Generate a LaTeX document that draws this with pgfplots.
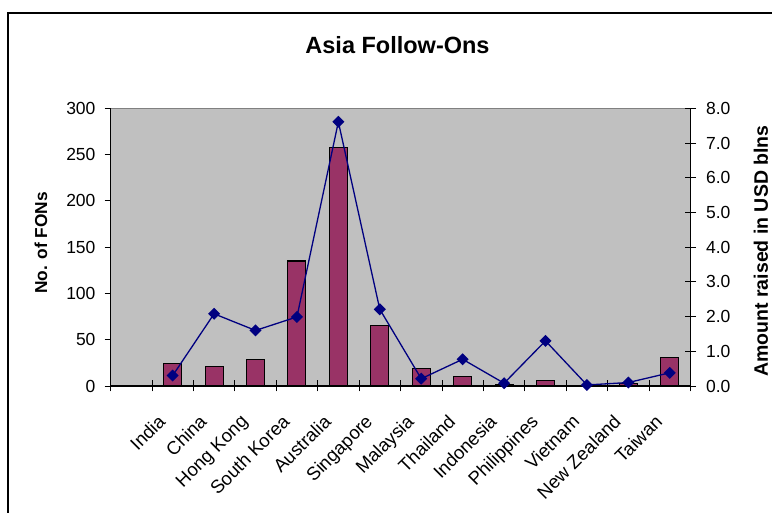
\documentclass[border=0pt]{standalone}
\usepackage{fontspec}
\setmainfont{Liberation Sans}
\usepackage{pgfplots}
\pgfplotsset{compat=1.18}
\definecolor{plotgray}{HTML}{C0C0C0}
\definecolor{barfill}{HTML}{993366}
\definecolor{linecol}{HTML}{000080}
\newcommand{\tickfont}{\fontsize{17.5}{20}\selectfont}
\newcommand{\catfont}{\fontsize{18.5}{21}\selectfont}
\begin{document}
\begin{tikzpicture}[x=1pt,y=1pt]
\path[use as bounding box] (0,0) rectangle (772,512);
\draw[line width=1.5pt] (8,-2) -- (8,499) -- (774,499);
\node[font=\bfseries\fontsize{23.5}{26}\selectfont, anchor=base] at (397.5,458.7) {Asia Follow-Ons};
\node[font=\bfseries\fontsize{17.3}{20}\selectfont, rotate=90, inner sep=0pt] at (41,269) {No. of FONs};
\node[font=\bfseries\fontsize{19.5}{22}\selectfont, rotate=90, inner sep=0pt] at (761,261) {Amount raised in USD blns};
\begin{axis}[
  at={(110.5pt,126pt)}, anchor=south west, scale only axis,
  width=580pt, height=277.7pt,
  xmin=-0.5, xmax=13.5, ymin=0, ymax=300,
  axis x line*=bottom, axis y line*=left,
  axis line style={-, black, line width=1pt},
  axis background/.style={fill=plotgray, draw=gray, line width=1pt},
  ytick={0,50,...,300},
  xtick={1,...,13},
  xticklabels={India,China,Hong Kong,South Korea,Australia,Singapore,Malaysia,Thailand,Indonesia,Philippines,Vietnam,New Zealand,Taiwan},
  x tick style={draw=none},
  y tick style={black, line width=0.8pt},
  tick align=outside, major tick length=6pt,
  yticklabel style={font=\tickfont, xshift=-5.5pt},
  xticklabel style={font=\catfont, inner sep=0pt, xshift=-15.8pt, yshift=-21.3pt, rotate=45, anchor=north east},
  /pgf/number format/assume math mode=true,
]
\addplot[ybar, bar width=18pt, fill=barfill, draw=black, line width=1.1pt] coordinates {
(1,24) (2,21) (3,29) (4,135) (5,258) (6,65) (7,19) (8,10) (9,2) (10,6) (11,1) (12,3) (13,31)
};
\end{axis}
\begin{axis}[
  at={(110.5pt,126pt)}, anchor=south west, scale only axis,
  width=580pt, height=277.7pt,
  xmin=-0.5, xmax=13.5, ymin=0, ymax=8,
  axis x line*=bottom, axis y line*=right,
  axis line style={-, black, line width=1pt},
  ytick={0,1,...,8},
  xtick={-0.5,0.5,...,13.5},
  xticklabels={},
  tick style={black, line width=0.8pt},
  tick align=center, major tick length=11pt,
  yticklabel style={font=\tickfont, xshift=6.5pt, /pgf/number format/fixed, /pgf/number format/fixed zerofill, /pgf/number format/precision=1},
  /pgf/number format/assume math mode=true,
]
\addplot[linecol, line width=1.3pt, mark=square*, mark size=3.6pt, mark options={rotate=45, fill=linecol, solid}] coordinates {
(1,0.30) (2,2.08) (3,1.60) (4,1.99) (5,7.61) (6,2.21) (7,0.21) (8,0.77) (9,0.08) (10,1.30) (11,0.03) (12,0.10) (13,0.38)
};
\end{axis}
\end{tikzpicture}
\end{document}
